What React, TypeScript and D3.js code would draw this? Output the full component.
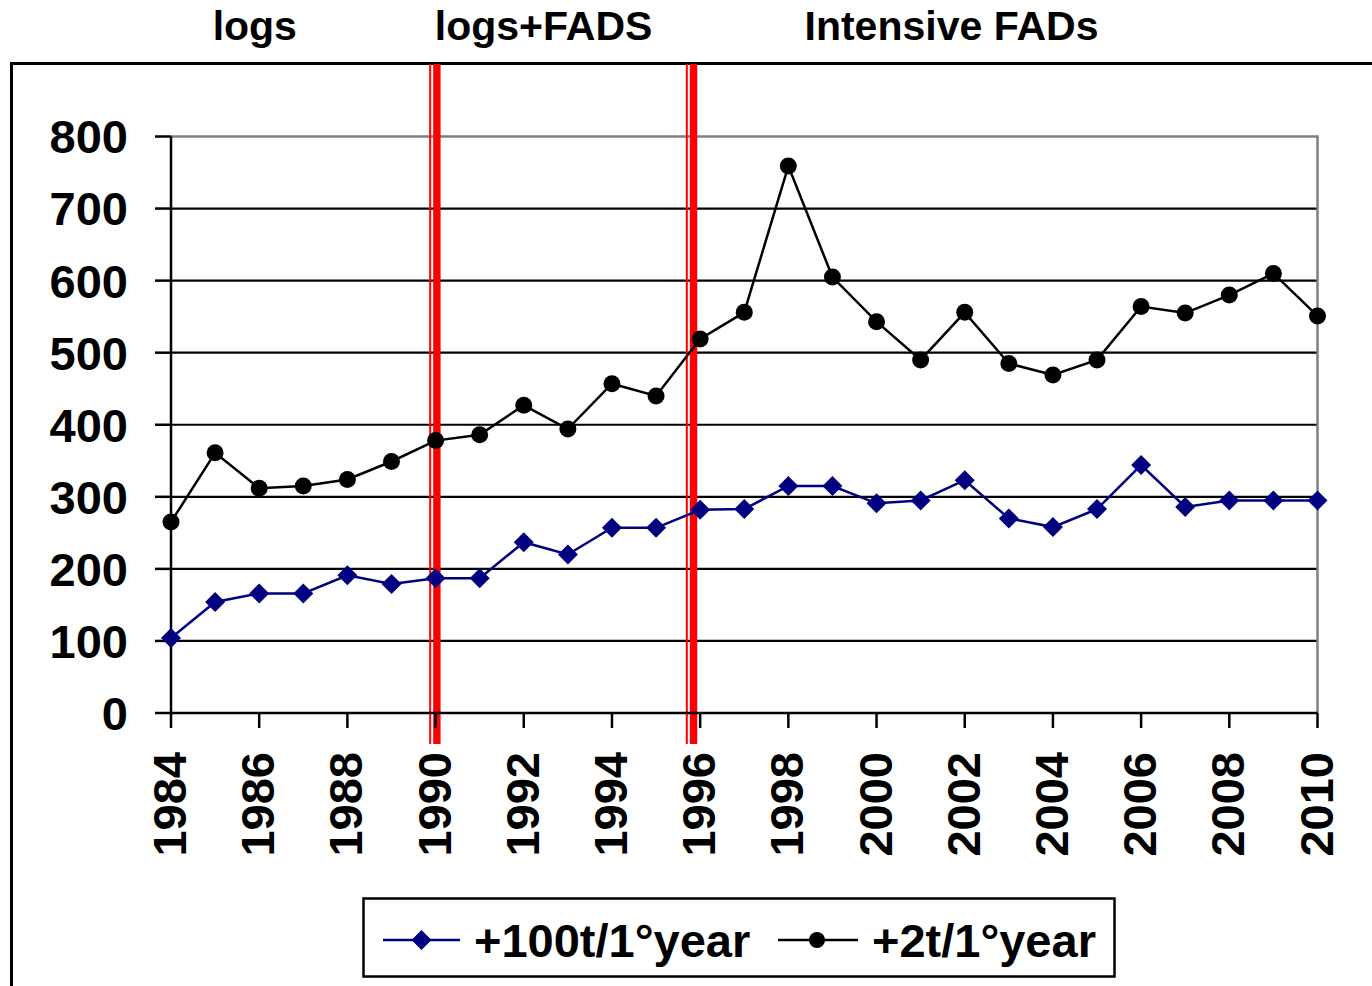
import React from "react";
import * as d3 from "d3";

const years = [1984,1985,1986,1987,1988,1989,1990,1991,1992,1993,1994,1995,1996,1997,1998,1999,2000,2001,2002,2003,2004,2005,2006,2007,2008,2009,2010];
const series100t = [104,154,166,166,191,179,187,187,237,220,257,257,282,283,315,315,291,295,323,270,258,283,344,286,295,295,295];
const series2t = [265,361,312,315,324,349,378,386,427,394,457,440,519,556,759,605,543,490,556,485,469,490,564,555,580,610,551];
const yTicks = [0,100,200,300,400,500,600,700,800];
const xTickYears = [1984,1986,1988,1990,1992,1994,1996,1998,2000,2002,2004,2006,2008,2010];
const periodLabels = ["logs","logs+FADS","Intensive FADs"];
const periodCenters = [1985.9, 1992.45, 2001.7];
const dividerYears = [1990.0, 1995.82];
const legendLabels = ["+100t/1°year","+2t/1°year"];

const FONT = "'Liberation Sans', Arial, sans-serif";
const NAVY = "#000080";

export default function App() {
  const W = 1372, H = 986;
  const x = d3.scaleLinear().domain([1984, 2010]).range([171, 1317.5]);
  const y = d3.scaleLinear().domain([0, 800]).range([713, 136.5]);
  const line = d3.line<number>().x((_, i) => x(years[i])).y(d => y(d));
  const diamond = (cx: number, cy: number, r: number) =>
    `M${cx},${cy - r}L${cx + r},${cy}L${cx},${cy + r}L${cx - r},${cy}Z`;

  return (
    <svg width={W} height={H} style={{ position: "absolute", left: 0, top: 0, background: "#fff" }} fontFamily={FONT}>
      {/* outer frame */}
      <path d={`M11.5,${H + 5}L11.5,63.5L${W + 5},63.5`} fill="none" stroke="#000" strokeWidth={3} />
      {/* period labels */}
      {periodLabels.map((t, i) => (
        <text key={t} x={x(periodCenters[i])} y={40} textAnchor="middle" fontSize={41} fontWeight="bold">{t}</text>
      ))}
      {/* gridlines */}
      {yTicks.filter(v => v > 0 && v < 800).map(v => (
        <line key={v} x1={x(1984)} x2={x(2010)} y1={y(v)} y2={y(v)} stroke="#000" strokeWidth={2.2} />
      ))}
      {/* plot border top/right gray */}
      <path d={`M${x(1984)},${y(800)}L${x(2010)},${y(800)}L${x(2010)},${y(0)}`} fill="none" stroke="#808080" strokeWidth={2.5} />
      {/* divider red lines */}
      {dividerYears.map(yr => {
        const c = x(yr);
        return (
          <g key={yr}>
            <rect x={c - 6.4} y={64} width={2} height={680} fill="#ff0000" />
            <rect x={c - 2.4} y={64} width={7.4} height={680} fill="#ff0000" />
          </g>
        );
      })}
      {/* axes */}
      <line x1={x(1984)} x2={x(1984)} y1={y(800)} y2={y(0)} stroke="#000" strokeWidth={2.5} />
      <line x1={x(1984)} x2={x(2010)} y1={y(0)} y2={y(0)} stroke="#000" strokeWidth={2.5} />
      {yTicks.map(v => (
        <g key={v}>
          <line x1={155} x2={x(1984)} y1={y(v)} y2={y(v)} stroke="#000" strokeWidth={2.5} />
          <text x={128} y={y(v)} dy="0.36em" textAnchor="end" fontSize={47} fontWeight="bold">{v}</text>
        </g>
      ))}
      {xTickYears.map(yr => (
        <g key={yr}>
          <line x1={x(yr)} x2={x(yr)} y1={y(0)} y2={728} stroke="#000" strokeWidth={2.5} />
          <text transform={`translate(${x(yr) + 15},752) rotate(-90)`} textAnchor="end" fontSize={47} fontWeight="bold">{yr}</text>
        </g>
      ))}
      {/* series 2t */}
      <path d={line(series2t) || ""} fill="none" stroke="#000" strokeWidth={2.5} />
      {series2t.map((v, i) => (
        <circle key={i} cx={x(years[i])} cy={y(v)} r={8.5} fill="#000" />
      ))}
      {/* series 100t */}
      <path d={line(series100t) || ""} fill="none" stroke={NAVY} strokeWidth={2.5} />
      {series100t.map((v, i) => (
        <path key={i} d={diamond(x(years[i]), y(v), 10)} fill={NAVY} />
      ))}
      {/* legend */}
      <rect x={363.5} y={898.5} width={751} height={78} fill="#fff" stroke="#000" strokeWidth={2.5} />
      <line x1={383} x2={460} y1={940} y2={940} stroke={NAVY} strokeWidth={2.5} />
      <path d={diamond(421.5, 940, 10)} fill={NAVY} />
      <text x={474} y={957} fontSize={47} fontWeight="bold">{legendLabels[0]}</text>
      <line x1={778} x2={858} y1={940} y2={940} stroke="#000" strokeWidth={2.5} />
      <circle cx={817} cy={940} r={8} fill="#000" />
      <text x={872} y={957} fontSize={47} fontWeight="bold">{legendLabels[1]}</text>
    </svg>
  );
}
